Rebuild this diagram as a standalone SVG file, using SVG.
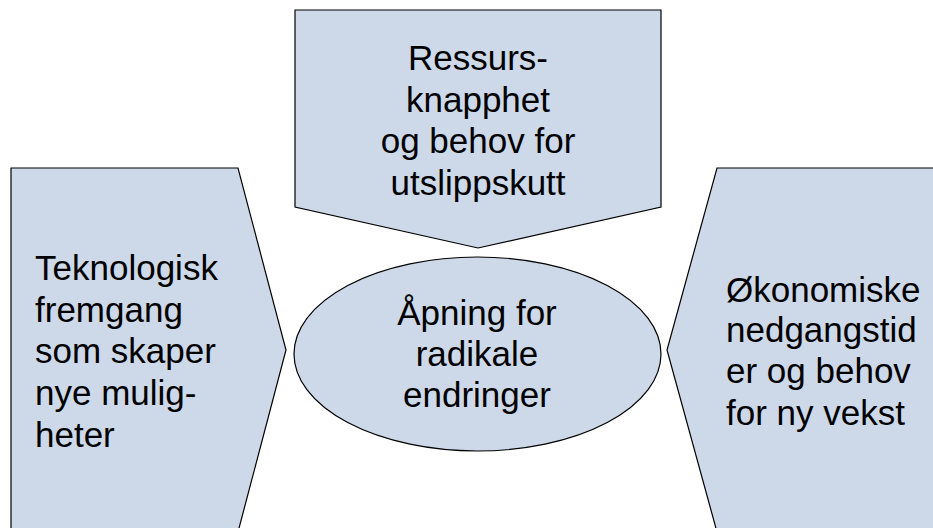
<svg xmlns="http://www.w3.org/2000/svg" width="933" height="528" viewBox="0 0 933 528">
<style>
.shape{fill:#cdd9e8;stroke:#000;stroke-width:1.2;stroke-linejoin:miter}
.t{font-family:"Liberation Sans",Arial,sans-serif;font-size:35px;fill:#000}
.c{text-anchor:middle}
</style>
<rect width="933" height="528" fill="#fff"/>
<g id="connectors"></g>
<g id="node-top">
<polygon class="shape" points="295,10 661,10 661,207 478,248 295,207"/>
<text class="t c" x="478" y="70">Ressurs-</text>
<text class="t c" x="478" y="112">knapphet</text>
<text class="t c" x="478" y="153">og behov for</text>
<text class="t c" x="478" y="195">utslippskutt</text>
</g>
<g id="node-left">
<polygon class="shape" points="11,168 238,168 286,350 238,532 11,532"/>
<text class="t" x="35" y="280">Teknologisk</text>
<text class="t" x="35" y="322">fremgang</text>
<text class="t" x="35" y="363">som skaper</text>
<text class="t" x="35" y="405">nye mulig-</text>
<text class="t" x="35" y="447">heter</text>
</g>
<g id="node-right">
<polygon class="shape" points="717,168 940,168 940,532 717,532 667,350"/>
<text class="t" x="726" y="302">Økonomiske</text>
<text class="t" x="726" y="342">nedgangstid</text>
<text class="t" x="726" y="383">er og behov</text>
<text class="t" x="726" y="425">for ny vekst</text>
</g>
<g id="node-center">
<ellipse class="shape" cx="477.5" cy="354" rx="183.5" ry="97"/>
<text class="t c" x="477" y="325">Åpning for</text>
<text class="t c" x="477" y="366">radikale</text>
<text class="t c" x="477" y="407">endringer</text>
</g>
</svg>
